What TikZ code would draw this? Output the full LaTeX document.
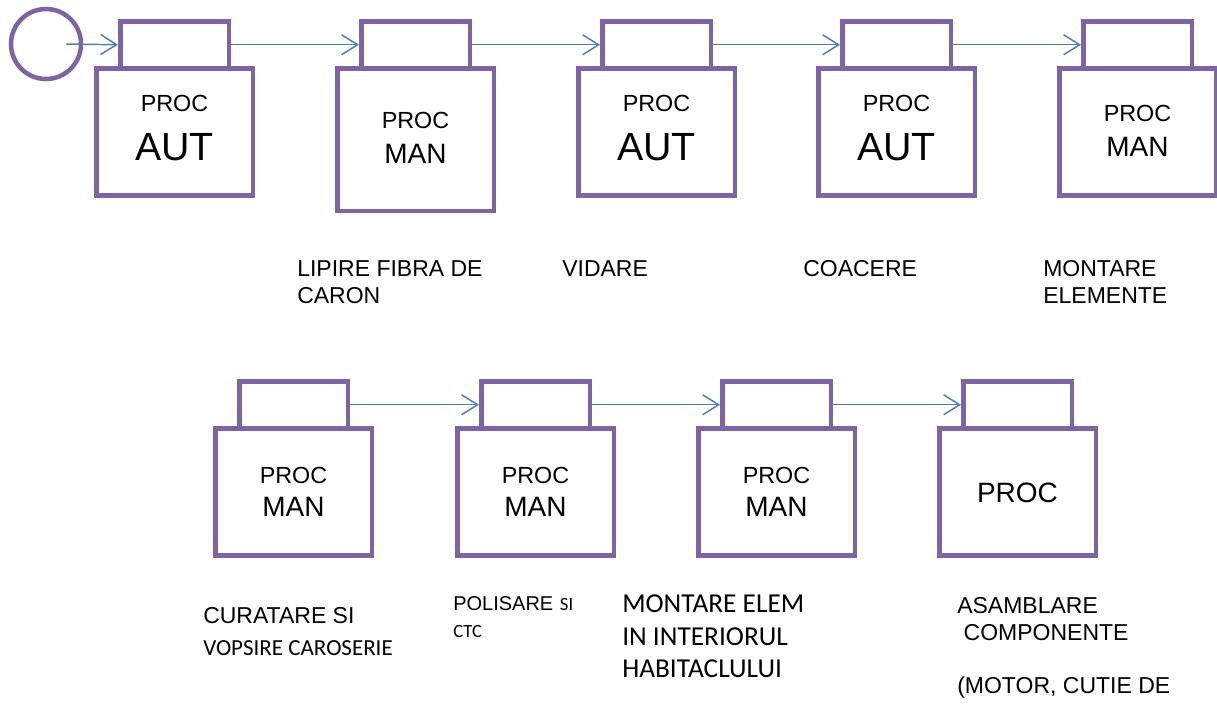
\documentclass[tikz,border=0pt]{standalone}
\usepackage{fontspec}
\setmainfont{Liberation Sans}
\newfontfamily\calibrifont{Carlito}
\usetikzlibrary{arrows.meta}

\begin{document}
\begin{tikzpicture}[x=0.75pt,y=-0.75pt,
  procbox/.style={draw=procpurple,line width=3.4pt,minimum width=117.4pt,minimum height=95.6pt,inner sep=0pt},
  portbox/.style={draw=procpurple,line width=3.4pt,minimum width=81.4pt,minimum height=35.25pt,inner sep=0pt},
  flow/.style={draw=flowblue,line width=1.1pt,-{Straight Barb[length=12pt,width=15pt]}},
  proctxt/.style={inner sep=0pt,font=\fontsize{17.5}{21}\selectfont},
  auttxt/.style={inner sep=0pt,font=\fontsize{29.5}{34}\selectfont},
  mantxt/.style={inner sep=0pt,font=\fontsize{21}{25}\selectfont},
  lbl/.style={anchor=north west,inner sep=0pt,align=left,font=\fontsize{17.25}{20.25}\selectfont}]

  \definecolor{procpurple}{RGB}{128,100,162}
  \definecolor{flowblue}{RGB}{74,126,187}

  \useasboundingbox (0,0) rectangle (1217,704);

  % ---- start ----
  \node[draw=procpurple,line width=3.4pt,circle,minimum size=52.5pt,inner sep=0pt] (start) at (46,44) {};
  \coordinate (s0) at (66,44);

  % ---- first row ----
  \node[procbox] (p1) at (174.5,132) {};
  \node[portbox] (t1) at (174.5,44.75) {};
  \node[proctxt] (p1a) at (174.5,103) {PROC};
  \node[auttxt] (p1b) at (174.5,147) {AUT};

  \node[procbox,minimum height=106.9pt] (p2) at (415.5,139.5) {};
  \node[portbox] (t2) at (415.5,44.75) {};
  \node[proctxt] (p2a) at (415.5,120) {PROC};
  \node[mantxt] (p2b) at (415.5,154) {MAN};

  \node[procbox] (p3) at (656.5,132) {};
  \node[portbox] (t3) at (656.5,44.75) {};
  \node[proctxt] (p3a) at (656.5,103) {PROC};
  \node[auttxt] (p3b) at (656.5,147) {AUT};

  \node[procbox] (p4) at (896.5,132) {};
  \node[portbox] (t4) at (896.5,44.75) {};
  \node[proctxt] (p4a) at (896.5,103) {PROC};
  \node[auttxt] (p4b) at (896.5,147) {AUT};

  \node[procbox] (p5) at (1137.5,132) {};
  \node[portbox] (t5) at (1137.5,44.75) {};
  \node[proctxt] (p5a) at (1137.5,113) {PROC};
  \node[mantxt] (p5b) at (1137.5,147) {MAN};

  \draw[flow] (s0) -- (t1.west);
  \draw[flow] (t1.east) -- (t2.west);
  \draw[flow] (t2.east) -- (t3.west);
  \draw[flow] (t3.east) -- (t4.west);
  \draw[flow] (t4.east) -- (t5.west);

  \node[lbl] (l2) at (297,260) {LIPIRE FIBRA DE\\CARON};
  \node[lbl] (l3) at (562,260) {VIDARE};
  \node[lbl] (l4) at (803,260) {COACERE};
  \node[lbl] (l5) at (1043,260) {MONTARE\\ELEMENTE};

  % ---- second row ----
  \node[procbox] (q1) at (293.5,492) {};
  \node[portbox] (u1) at (293.5,404.75) {};
  \node[proctxt] (q1a) at (293.5,475) {PROC};
  \node[mantxt] (q1b) at (293.5,507) {MAN};

  \node[procbox] (q2) at (535.5,492) {};
  \node[portbox] (u2) at (535.5,404.75) {};
  \node[proctxt] (q2a) at (535.5,475) {PROC};
  \node[mantxt] (q2b) at (535.5,507) {MAN};

  \node[procbox] (q3) at (776.5,492) {};
  \node[portbox] (u3) at (776.5,404.75) {};
  \node[proctxt] (q3a) at (776.5,475) {PROC};
  \node[mantxt] (q3b) at (776.5,507) {MAN};

  \node[procbox] (q4) at (1017.5,492) {};
  \node[portbox] (u4) at (1017.5,404.75) {};
  \node[mantxt] (q4a) at (1017.5,493) {PROC};

  \draw[flow] (u1.east) -- (u2.west);
  \draw[flow] (u2.east) -- (u3.west);
  \draw[flow] (u3.east) -- (u4.west);

  \node[lbl,font=\fontsize{17.25}{24}\selectfont] (m1) at (203,607)
    {CURATARE SI\\{\calibrifont VOPSIRE CAROSERIE}};
  \node[lbl,font=\fontsize{15}{20.25}\selectfont] (m2) at (453,596)
    {POLISARE\hspace{5pt}{\calibrifont\fontsize{14}{20.25}\selectfont SI}\\{\calibrifont\fontsize{14}{20.25}\selectfont CTC}};
  \node[lbl,font=\calibrifont\fontsize{20.5}{24.4}\selectfont] (m3) at (622,594.5)
    {MONTARE ELEM\\IN INTERIORUL\\HABITACLULUI};
  \node[lbl,font=\fontsize{17.25}{20}\selectfont] (m4) at (957,597)
    {ASAMBLARE\\\hspace*{4.8pt}COMPONENTE\\[20pt](MOTOR, CUTIE DE};

\end{tikzpicture}
\end{document}
